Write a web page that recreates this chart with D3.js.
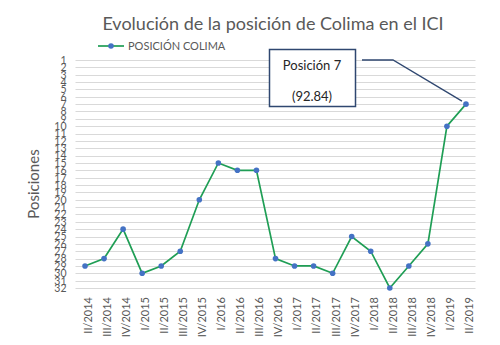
<!DOCTYPE html>
<html>
<head>
<meta charset="utf-8">
<script src="https://cdn.jsdelivr.net/npm/d3@7"></script>
<style>
  body { margin: 0; background: #fff; }
  text { font-family: Lato, "Open Sans", sans-serif; }
</style>
</head>
<body>
<div id="chart"></div>
<script>
// Quarters shown on the x axis
const quarters = ['II/2014','III/2014','IV/2014','I/2015','II/2015','III/2015','IV/2015',
  'I/2016','II/2016','III/2016','IV/2016','I/2017','II/2017','III/2017','IV/2017',
  'I/2018','II/2018','III/2018','IV/2018','I/2019','II/2019'];

// Colima position in the ICI ranking for each quarter
const positions = [29, 28, 24, 30, 29, 27, 20, 15, 16, 16, 28, 29, 29, 30, 25, 27, 32, 29, 26, 10, 7];

// Y axis tick labels (1..32)
const yTicks = d3.range(1, 33);

// Callout text
const calloutLines = ['Posición 7', '(92.84)'];

const svgWidth = 500;
const svgHeight = 345;
const margins = {left: 75.5, top: 60, right: 24.5, bottom: 57};

const svg = d3.select('#chart').append('svg')
  .attr('width', svgWidth)
  .attr('height', svgHeight);

// Scales
const xScale = d3.scaleBand().domain(quarters)
  .range([margins.left, svgWidth - margins.right]);

const yScale = d3.scaleLinear().domain([1, 32])
  .range([margins.top, svgHeight - margins.bottom]);

// Gridlines
svg.append('g')
  .selectAll('line')
  .data(yTicks)
  .enter()
  .append('line')
  .attr('x1', margins.left)
  .attr('x2', svgWidth - margins.right)
  .attr('y1', d => Math.round(yScale(d)) + 0.5)
  .attr('y2', d => Math.round(yScale(d)) + 0.5)
  .attr('stroke', '#d9d9d9')
  .attr('stroke-width', 1);

// Y axis labels (crowded like the original, they overlap a little)
const yAxis = d3.axisLeft(yScale).tickValues(yTicks).tickSize(0).tickPadding(9);
svg.append('g')
  .attr('class', 'y_axis')
  .attr('transform', 'translate(' + margins.left + ',0)')
  .call(yAxis)
  .call(g => g.select('.domain').remove())
  .selectAll('text')
  .attr('fill', '#595959')
  .style('font-size', '10.5px')
  .style('font-family', 'Lato, sans-serif');

// X axis labels, rotated
const xAxis = d3.axisBottom(xScale).tickSize(0);
svg.append('g')
  .attr('class', 'x_axis')
  .attr('transform', 'translate(0,' + (svgHeight - margins.bottom) + ')')
  .call(xAxis)
  .call(g => g.select('.domain').remove())
  .selectAll('text')
  .attr('fill', '#595959')
  .style('font-size', '11px')
  .style('font-family', 'Lato, sans-serif')
  .attr('text-anchor', 'end')
  .attr('dy', '0.35em')
  .attr('transform', 'translate(0,9)rotate(-90)');

// Line
const line = d3.line()
  .x((d, i) => xScale(quarters[i]) + xScale.bandwidth() / 2)
  .y(d => yScale(d));

svg.append('path')
  .datum(positions)
  .attr('fill', 'none')
  .attr('stroke', '#1f9e55')
  .attr('stroke-width', 1.7)
  .attr('d', line);

// Markers
svg.append('g')
  .selectAll('circle')
  .data(positions)
  .enter()
  .append('circle')
  .attr('cx', (d, i) => xScale(quarters[i]) + xScale.bandwidth() / 2)
  .attr('cy', d => yScale(d))
  .attr('r', 2.8)
  .attr('fill', '#4472c4');

// Title
svg.append('text')
  .attr('x', 273)
  .attr('y', 30)
  .attr('text-anchor', 'middle')
  .attr('fill', '#595959')
  .style('font-size', '18px')
  .text('Evolución de la posición de Colima en el ICI');

// Legend
const legend = svg.append('g').attr('transform', 'translate(98,46)');
legend.append('line')
  .attr('x1', 0).attr('x2', 26)
  .attr('stroke', '#1f9e55').attr('stroke-width', 1.7);
legend.append('circle')
  .attr('cx', 13).attr('r', 2.8).attr('fill', '#4472c4');
legend.append('text')
  .attr('x', 30).attr('dy', '0.35em')
  .attr('fill', '#595959')
  .style('font-size', '11px')
  .text('POSICIÓN COLIMA');

// Y axis title
svg.append('text')
  .attr('transform', 'translate(39,184)rotate(-90)')
  .attr('text-anchor', 'middle')
  .attr('fill', '#595959')
  .style('font-size', '15px')
  .text('Posiciones');

// Callout box pointing at the last point
const lastX = xScale(quarters[quarters.length - 1]) + xScale.bandwidth() / 2;
const lastY = yScale(positions[positions.length - 1]);

svg.append('polyline')
  .attr('points', [[362, 60], [393, 60], [lastX - 4, lastY - 3]].join(' '))
  .attr('fill', 'none')
  .attr('stroke', '#2f4770')
  .attr('stroke-width', 1.3);

svg.append('rect')
  .attr('x', 269.5).attr('y', 49.5)
  .attr('width', 86).attr('height', 57)
  .attr('fill', '#fff')
  .attr('stroke', '#2f4770')
  .attr('stroke-width', 1.5);

svg.append('g')
  .selectAll('text')
  .data(calloutLines)
  .enter()
  .append('text')
  .attr('x', 312)
  .attr('y', (d, i) => 70 + i * 31)
  .attr('text-anchor', 'middle')
  .attr('fill', '#262626')
  .style('font-size', '13px')
  .text(d => d);
</script>
</body>
</html>
